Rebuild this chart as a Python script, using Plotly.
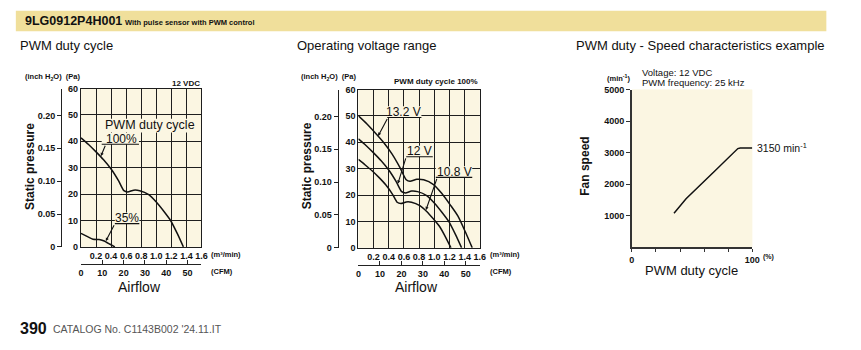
import plotly.graph_objects as go

# ---------------- data ----------------
flow_pwm100 = [0, 0.1, 0.2, 0.3, 0.4, 0.5, 0.57, 0.62, 0.7, 0.78, 0.9, 1.0, 1.1, 1.19, 1.28, 1.36]
pres_pwm100 = [41.3, 38.8, 36.0, 33.0, 29.5, 25.0, 21.3, 20.8, 21.5, 21.3, 19.8, 17.0, 13.5, 10.0, 5.0, 0]
flow_pwm35 = [0, 0.08, 0.16, 0.24, 0.3, 0.38, 0.45]
pres_pwm35 = [5.1, 4.0, 2.9, 2.8, 2.3, 1.1, 0]

flow_132v = [0, 0.11, 0.22, 0.33, 0.44, 0.55, 0.63, 0.68, 0.77, 0.86, 0.99, 1.1, 1.21, 1.31, 1.41, 1.5]
pres_132v = [50.0, 47.0, 43.6, 40.0, 35.7, 30.3, 25.8, 25.2, 26.0, 25.8, 24.0, 20.6, 16.3, 12.1, 6.0, 0]
flow_12v = flow_pwm100
pres_12v = pres_pwm100
flow_108v = [0, 0.09, 0.18, 0.27, 0.36, 0.45, 0.51, 0.56, 0.63, 0.7, 0.81, 0.9, 0.99, 1.07, 1.15, 1.22]
pres_108v = [33.5, 31.4, 29.2, 26.7, 23.9, 20.3, 17.3, 16.8, 17.4, 17.3, 16.0, 13.8, 10.9, 8.1, 4.0, 0]

duty_pct = [35, 45, 68, 88, 90, 100]
fan_speed = [1080, 1540, 2390, 3130, 3150, 3150]

flow_ticks = [0.2, 0.4, 0.6, 0.8, 1.0, 1.2, 1.4, 1.6]
flow_ticktext = ["0.2", "0.4", "0.6", "0.8", "1.0", "1.2", "1.4", "1.6"]
pa_ticks = [0, 10, 20, 30, 40, 50, 60]
inch_ticks = [0, 0.05, 0.10, 0.15, 0.20]
inch_ticktext = ["0", "0.05", "0.10", "0.15", "0.20"]
cfm_ticks = [0, 10, 20, 30, 40, 50]
speed_ticks = [1000, 2000, 3000, 4000, 5000]
duty_ticks = [0, 20, 40, 60, 80, 100]
duty_ticktext = ["0", "", "", "", "", "100"]

PA_PER_INCH = 249.089
M3MIN_PER_CFM = 0.0283168

# ---------------- style ----------------
W, H = 861, 350
BG = "#FBF6E2"
BAND = "#F0DF9B"
SANS = "Liberation Sans, Arial, Helvetica, sans-serif"
INK = "#111111"
GRID = "#1e1e1e"
PA_PX = 2.72  # pixels per Pa in the two pressure charts


def px(x):
    return x / W


def py(y):
    return 1 - y / H


fig = go.Figure()
line_style = dict(color="#111111", width=1.5, shape="spline", smoothing=0.6)

fig.add_trace(go.Scatter(x=flow_pwm100, y=pres_pwm100, mode="lines", line=line_style, xaxis="x", yaxis="y", hoverinfo="skip"))
fig.add_trace(go.Scatter(x=flow_pwm35, y=pres_pwm35, mode="lines", line=line_style, xaxis="x", yaxis="y", hoverinfo="skip"))
for fx, fy in [(flow_132v, pres_132v), (flow_12v, pres_12v), (flow_108v, pres_108v)]:
    fig.add_trace(go.Scatter(x=fx, y=fy, mode="lines", line=line_style, xaxis="x2", yaxis="y2", hoverinfo="skip"))
fig.add_trace(go.Scatter(x=duty_pct, y=fan_speed, mode="lines", line=dict(color="#111111", width=1.5),
                         xaxis="x3", yaxis="y3", hoverinfo="skip"))

# invisible helpers so the secondary axes are drawn
for xa, ya in [("x", "y4"), ("x4", "y"), ("x2", "y5"), ("x5", "y2")]:
    fig.add_trace(go.Scatter(x=[0.5], y=[0.1], mode="markers", marker=dict(opacity=0), xaxis=xa, yaxis=ya, hoverinfo="skip"))

tickf = dict(family=SANS, size=9, color=INK, weight="bold")

L = dict(x0=79, x1=201, y0=86, y1=249)
M = dict(x0=360, x1=483, y0=87, y1=250)
R = dict(x0=637, x1=759, y0=87, y1=249.5)


def flow_axis(d):
    return dict(domain=[px(d["x0"]), px(d["x1"])], range=[0, 1.6], tickvals=flow_ticks, ticktext=flow_ticktext,
                showgrid=True, gridcolor=GRID, gridwidth=1.2, zeroline=False, showline=True, mirror=True,
                linecolor=GRID, linewidth=1.2, ticks="", tickfont=tickf, tickangle=0, fixedrange=True)


def pa_axis(d, anchor):
    return dict(domain=[py(d["y1"]), py(d["y0"])], range=[0, 60], tickvals=pa_ticks, anchor=anchor,
                showgrid=True, gridcolor=GRID, gridwidth=1.2, zeroline=False, showline=True, mirror=True,
                linecolor=GRID, linewidth=1.2, ticks="", tickfont=tickf, fixedrange=True)


def inch_axis(d, over, xpos):
    return dict(domain=[py(d["y1"]), py(d["y0"])], overlaying=over, anchor="free", position=px(xpos), side="left",
                range=[0, 60 / PA_PER_INCH], tickvals=inch_ticks, ticktext=inch_ticktext, showgrid=False,
                zeroline=False, showline=True, linecolor="#222", linewidth=1.3, ticks="outside", ticklen=4,
                tickcolor="#222", tickfont=tickf, fixedrange=True)


def cfm_axis(d, over, ypos):
    return dict(domain=[px(d["x0"]), px(d["x1"])], overlaying=over, anchor="free", position=py(ypos), side="bottom",
                range=[0, 1.6 / M3MIN_PER_CFM], tickvals=cfm_ticks, showgrid=False, zeroline=False,
                showline=True, linecolor="#222", linewidth=1.3, ticks="inside", ticklen=4, tickcolor="#222",
                tickfont=tickf, tickangle=0, fixedrange=True)


fig.update_layout(
    width=W, height=H, margin=dict(l=0, r=0, t=0, b=0), showlegend=False,
    paper_bgcolor="white", plot_bgcolor=BG,
    xaxis=dict(flow_axis(L), anchor="y"),
    yaxis=pa_axis(L, "x"),
    xaxis2=dict(flow_axis(M), anchor="y2"),
    yaxis2=pa_axis(M, "x2"),
    yaxis4=inch_axis(L, "y", 59),
    xaxis4=cfm_axis(L, "x", 267),
    yaxis5=inch_axis(M, "y2", 339),
    xaxis5=cfm_axis(M, "x2", 268),
    xaxis3=dict(domain=[px(R["x0"]), px(R["x1"])], anchor="y3", range=[0, 100], tickvals=duty_ticks,
                ticktext=duty_ticktext, showgrid=False, zeroline=False, showline=True, linecolor="#333",
                linewidth=1.5, ticks="outside", ticklen=3, tickcolor="#333", tickfont=tickf, tickangle=0,
                fixedrange=True),
    yaxis3=dict(domain=[py(R["y1"]), py(R["y0"])], anchor="x3", range=[0, 5000], tickvals=speed_ticks,
                showgrid=False, zeroline=False, showline=True, linecolor="#333", linewidth=1.5,
                ticks="outside", ticklen=4, tickcolor="#333", tickfont=tickf, fixedrange=True),
)

shapes = []
shapes.append(dict(type="rect", xref="paper", yref="paper", x0=px(13), x1=px(834), y0=py(27), y1=py(6),
                   fillcolor=BAND, line=dict(width=0), layer="below"))
shapes.append(dict(type="rect", xref="x3", yref="y3", x0=0, x1=100, y0=0, y1=5000,
                   fillcolor=BG, line=dict(width=0), layer="below"))

annotations = []


def text(x, y, s, size=10, anchor="left", color=INK, weight="normal", angle=0, yanchor="middle"):
    annotations.append(dict(x=px(x), y=py(y), xref="paper", yref="paper", text=s, showarrow=False,
                            xanchor=anchor, yanchor=yanchor, textangle=angle, borderpad=0,
                            font=dict(family=SANS, size=size, color=color, weight=weight)))


# header
text(21, 16.5, "9LG0912P4H001", size=12.5, weight="bold")
text(123, 17.5, "With pulse sensor with PWM control", size=7.5, weight="bold")

# titles
text(16, 42, "PWM duty cycle", size=13)
text(297, 42, "Operating voltage range", size=13)
text(579, 42, "PWM duty - Speed characteristics example", size=13)

# left chart texts
text(21, 74, "(inch H<sub>2</sub>O)  (Pa)", size=7.5, weight="bold")
text(201, 81, "12 VDC", size=8, weight="bold", anchor="right")
text(28, 166, "Static pressure", size=12, weight="bold", angle=-90, anchor="center")
text(210, 257, "(m³/min)", size=7.5, weight="bold")
text(210, 274, "(CFM)", size=7.5, weight="bold")
text(138, 290, "Airflow", size=14, anchor="center")

# middle chart texts
text(301, 74, "(inch H<sub>2</sub>O)  (Pa)", size=7.5, weight="bold")
text(482, 79, "PWM duty cycle 100%", size=8, weight="bold", anchor="right")
text(308, 166, "Static pressure", size=12, weight="bold", angle=-90, anchor="center")
text(492, 257, "(m³/min)", size=7.5, weight="bold")
text(492, 274, "(CFM)", size=7.5, weight="bold")
text(419, 290, "Airflow", size=14, anchor="center")

# right chart texts
text(611, 75, "(min<sup>-1</sup>)", size=7.5, weight="bold")
text(646, 69, "Voltage: 12 VDC", size=9.5)
text(646, 80, "PWM frequency: 25 kHz", size=9.5)
text(590, 166, "Fan speed", size=12, weight="bold", angle=-90, anchor="center")
text(769, 259, "(%)", size=7, weight="bold")
text(697, 273, "PWM duty cycle", size=13, anchor="center")

# footer
text(16, 333, "390", size=16, weight="bold")
text(50, 334, "CATALOG No. C1143B002 '24.11.IT", size=10.5, color="#555555")

annotations.append(dict(x=100, y=3150, xref="x3", yref="y3", text="3150 min<sup>-1</sup>", showarrow=False,
                        xanchor="left", yanchor="middle", xshift=3,
                        font=dict(family=SANS, size=10.5, color=INK)))


def callout(xr, yr, label, tx, u0, u1, uy, ex, cx, cy, size=12):
    # cream patch that interrupts the grid behind the label
    shapes.append(dict(type="rect", xref=xr, yref=yr, x0=u0, x1=u1, y0=uy, y1=uy + 11.5 / PA_PX,
                       fillcolor=BG, line=dict(width=0), layer="above"))
    # underline
    shapes.append(dict(type="line", xref=xr, yref=yr, x0=u0, x1=u1, y0=uy, y1=uy,
                       line=dict(color="#111", width=1.1), layer="above"))
    # label
    annotations.append(dict(x=tx, y=uy, xref=xr, yref=yr, text=label, showarrow=False,
                            xanchor="center", yanchor="bottom", yshift=-2.5, borderpad=0,
                            font=dict(family=SANS, size=size, color=INK)))
    # leader to the curve
    annotations.append(dict(x=cx, y=cy, xref=xr, yref=yr, ax=ex, ay=uy, axref=xr, ayref=yr, text="",
                            showarrow=True, arrowhead=2, arrowsize=0.6, arrowwidth=1.1, arrowcolor="#111",
                            standoff=0, startstandoff=0))


# "PWM duty cycle" label inside left chart, with grid hidden behind it
shapes.append(dict(type="rect", xref="x", yref="y", x0=0.34, x1=1.49, y0=43.3, y1=48.6,
                   fillcolor=BG, line=dict(width=0), layer="above"))
annotations.append(dict(x=0.915, y=45.6, xref="x", yref="y", text="PWM duty cycle", showarrow=False,
                        xanchor="center", yanchor="middle", yshift=2, borderpad=0,
                        font=dict(family=SANS, size=12.5, color=INK)))
callout("x", "y", "100%", 0.54, 0.275, 0.77, 38.9, 0.33, 0.265, 34.4)
callout("x", "y", "35%", 0.61, 0.45, 0.775, 8.8, 0.45, 0.33, 2.2)

callout("x2", "y2", "13.2 V", 0.60, 0.38, 0.83, 49.4, 0.39, 0.26, 42.4)
callout("x2", "y2", "12 V", 0.805, 0.63, 0.98, 34.5, 0.63, 0.52, 24.3)
callout("x2", "y2", "10.8 V", 1.26, 1.02, 1.5, 26.7, 1.04, 0.89, 14.3)

fig.update_layout(shapes=shapes, annotations=annotations)
fig.write_html("out.html")
